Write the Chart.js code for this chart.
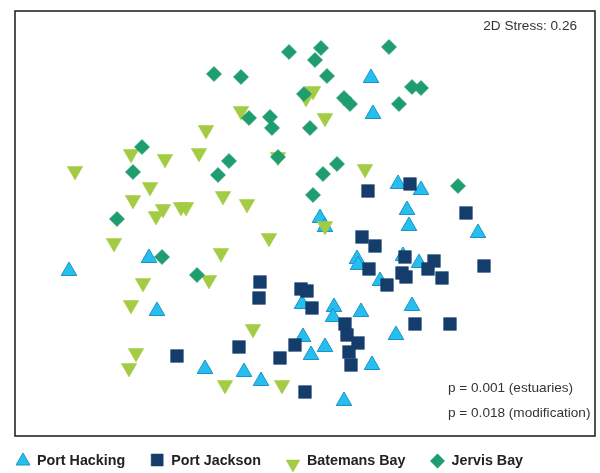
<!DOCTYPE html>
<html>
<head>
<meta charset="utf-8">
<script src="https://cdn.jsdelivr.net/npm/chart.js@4/dist/chart.umd.min.js"></script>
<style>
  html, body { margin: 0; padding: 0; background: #ffffff; overflow: hidden; }
  #wrap { width: 600px; height: 473px; position: relative; }
</style>
</head>
<body>
<div id="wrap"><canvas id="nmds"></canvas></div>
<script>
// NMDS ordination of sites, coordinates as [NMDS1, NMDS2]
const seriesNames = ['Port Hacking', 'Port Jackson', 'Batemans Bay', 'Jervis Bay'];

const portHacking = [
  [0.66, 1.45], [0.68, 1.09], [0.93, 0.39], [1.16, 0.33], [1.02, 0.13], [1.04, -0.03],
  [0.15, 0.05], [0.20, -0.04], [1.73, -0.10], [0.52, -0.36], [0.53, -0.42], [0.98, -0.33],
  [1.14, -0.40], [0.75, -0.58], [1.07, -0.83], [0.91, -1.12], [-0.03, -0.81], [0.29, -0.84],
  [0.28, -0.94], [0.56, -0.89], [-0.02, -1.14], [0.20, -1.24], [0.06, -1.32], [0.67, -1.42],
  [0.39, -1.78], [-0.61, -1.49], [-0.44, -1.58], [-1.00, -1.46], [-1.56, -0.35], [-2.36, -0.48],
  [-1.48, -0.88]
];

const portJackson = [
  [0.63, 0.32], [1.05, 0.39], [1.61, 0.10], [0.57, -0.14], [0.70, -0.23], [0.64, -0.46],
  [1.00, -0.34], [1.29, -0.38], [1.23, -0.46], [1.37, -0.55], [1.79, -0.43], [0.97, -0.50],
  [1.01, -0.54], [0.82, -0.62], [-0.04, -0.66], [0.02, -0.68], [-0.45, -0.59], [-0.46, -0.75],
  [0.07, -0.85], [1.10, -1.01], [1.45, -1.01], [0.40, -1.01], [0.42, -1.12], [0.53, -1.20],
  [0.44, -1.29], [0.46, -1.42], [-0.10, -1.22], [-0.66, -1.24], [-0.25, -1.35], [0.00, -1.69],
  [-1.28, -1.33]
];

const batemansBay = [
  [-0.99, 0.93], [-1.74, 0.69], [-1.40, 0.64], [-1.06, 0.70], [-2.30, 0.52], [-1.55, 0.36],
  [-1.72, 0.23], [-1.42, 0.14], [-1.49, 0.07], [-1.24, 0.16], [-1.19, 0.16], [-1.91, -0.20],
  [-0.96, -0.57], [-1.62, -0.60], [-1.74, -0.82], [-1.69, -1.30], [-1.76, -1.45], [0.08, 1.32],
  [0.01, 1.25], [-0.64, 1.12], [0.20, 1.05], [-0.27, 0.66], [0.60, 0.54], [-0.82, 0.27],
  [-0.58, 0.19], [0.20, -0.03], [-0.36, -0.15], [-0.84, -0.30], [-0.52, -1.06], [-0.80, -1.62],
  [-0.23, -1.62]
];

const jervisBay = [
  [-0.16, 1.71], [0.16, 1.75], [0.10, 1.63], [0.84, 1.76], [-0.91, 1.49], [-0.64, 1.46],
  [0.22, 1.47], [-0.01, 1.29], [0.39, 1.25], [0.45, 1.19], [1.07, 1.36], [1.16, 1.35],
  [0.94, 1.19], [-0.56, 1.05], [-0.35, 1.06], [-0.33, 0.95], [0.05, 0.95], [-1.63, 0.76],
  [-1.72, 0.51], [-0.76, 0.62], [-0.87, 0.48], [-0.27, 0.66], [0.32, 0.59], [0.18, 0.49],
  [0.08, 0.28], [1.53, 0.37], [-1.88, 0.04], [-1.43, -0.34], [-1.08, -0.52]
];

const stressLabel = '2D Stress: 0.26';
const testLabels = ['p = 0.001 (estuaries)', 'p = 0.018 (modification)'];

const toPoints = arr => arr.map(([x, y]) => ({ x, y }));

const styles = [
  { fill: '#25BFEF', border: '#1E92C6', borderWidth: 1, pointStyle: 'triangle', rotation: 0, radius: 9, legendRadius: 8, legendDy: 0 },
  { fill: '#143D6C', border: '#143D6C', borderWidth: 0.5, pointStyle: 'rect', rotation: 0, radius: 9, legendRadius: 8.5, legendDy: -1 },
  { fill: '#A3CB43', border: '#A3CB43', borderWidth: 0.5, pointStyle: 'triangle', rotation: 180, radius: 9, legendRadius: 8, legendDy: 3 },
  { fill: '#1F9D6F', border: '#1F9D6F', borderWidth: 0.5, pointStyle: 'rectRot', rotation: 0, radius: 7.6, legendRadius: 7.2, legendDy: 0 }
];

const seriesData = [portHacking, portJackson, batemansBay, jervisBay];
// later series sit on top of earlier ones
const drawOrder = [4, 3, 2, 1];

const datasets = seriesData.map((arr, i) => ({
  label: seriesNames[i],
  data: toPoints(arr),
  order: drawOrder[i],
  pointStyle: styles[i].pointStyle,
  rotation: styles[i].rotation,
  pointRadius: styles[i].radius,
  pointHoverRadius: styles[i].radius,
  backgroundColor: styles[i].fill,
  borderColor: styles[i].border,
  borderWidth: styles[i].borderWidth,
  showLine: false
}));

const fontFamily = '"Liberation Sans", Arial, Helvetica, sans-serif';

// Box around the plotting region
const framePlugin = {
  id: 'frame',
  afterDatasetsDraw(chart) {
    const { ctx, chartArea: a } = chart;
    ctx.save();
    ctx.strokeStyle = '#262626';
    ctx.lineWidth = 1.6;
    ctx.strokeRect(a.left, a.top, a.right - a.left, a.bottom - a.top);
    ctx.restore();
  }
};

// Stress value and test results written inside the plot
const notesPlugin = {
  id: 'notes',
  afterDatasetsDraw(chart) {
    const { ctx, chartArea: a } = chart;
    ctx.save();
    ctx.fillStyle = '#333333';
    ctx.font = '13.6px ' + fontFamily;
    ctx.textBaseline = 'middle';
    ctx.textAlign = 'right';
    ctx.fillText(stressLabel, a.right - 18, a.top + 15);
    ctx.textAlign = 'left';
    ctx.fillText(testLabels[0], a.left + 433, a.bottom - 48);
    ctx.fillText(testLabels[1], a.left + 433, a.bottom - 23);
    ctx.restore();
  }
};

// Key row under the plot
const keyPlugin = {
  id: 'key',
  afterDraw(chart) {
    const { ctx } = chart;
    const y = 461;
    let x = 23;
    ctx.save();
    ctx.font = 'bold 14.3px ' + fontFamily;
    ctx.textBaseline = 'middle';
    ctx.textAlign = 'left';
    seriesNames.forEach((name, i) => {
      const s = styles[i];
      ctx.fillStyle = s.fill;
      ctx.strokeStyle = s.border;
      ctx.lineWidth = s.borderWidth;
      Chart.helpers.drawPoint(ctx, {
        pointStyle: s.pointStyle,
        rotation: s.rotation,
        radius: s.legendRadius,
        borderWidth: s.borderWidth
      }, x, y + s.legendDy);
      ctx.fillStyle = '#222222';
      ctx.fillText(name, x + 14, y);
      x += 14 + ctx.measureText(name).width + 32;
    });
    ctx.restore();
  }
};

new Chart(document.getElementById('nmds'), {
  type: 'scatter',
  data: { datasets },
  options: {
    responsive: true,
    maintainAspectRatio: false,
    animation: false,
    layout: { autoPadding: false, padding: { left: 15, right: 5, top: 11, bottom: 37 } },
    scales: {
      x: { type: 'linear', min: -2.9, max: 2.9, display: false },
      y: { type: 'linear', min: -2.13, max: 2.12, display: false }
    },
    plugins: {
      legend: { display: false },
      tooltip: { enabled: false }
    }
  },
  plugins: [framePlugin, notesPlugin, keyPlugin]
});
</script>
</body>
</html>
